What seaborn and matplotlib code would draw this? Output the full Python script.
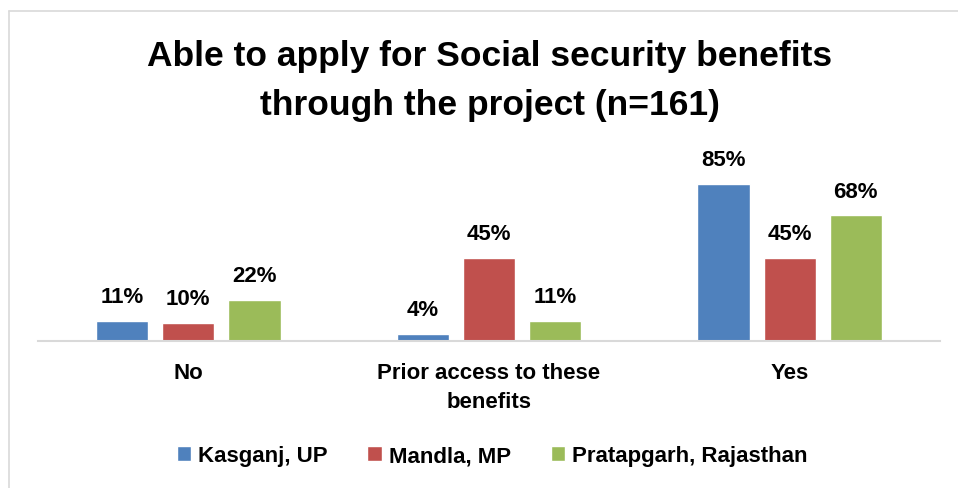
import numpy as np
import pandas as pd
import matplotlib.pyplot as plt
import seaborn as sns
from matplotlib.lines import Line2D

categories = ['No', 'Prior access to these\nbenefits', 'Yes']
districts = ['Kasganj, UP', 'Mandla, MP', 'Pratapgarh, Rajasthan']
kasganj = [11, 4, 85]
mandla = [10, 45, 45]
pratapgarh = [22, 11, 68]
colors = ['#4F81BD', '#C0504D', '#9BBB59']

df = pd.DataFrame({
    'category': categories * 3,
    'district': [districts[0]] * 3 + [districts[1]] * 3 + [districts[2]] * 3,
    'value': kasganj + mandla + pratapgarh,
})

sns.set_style('white')
plt.rcParams['font.family'] = ['Liberation Sans', 'DejaVu Sans']
plt.rcParams['text.color'] = 'black'
plt.rcParams['xtick.color'] = 'black'

fig = plt.figure(figsize=(9.58, 4.89), dpi=100)
ax = fig.add_axes([38 / 958, 147 / 489, 902 / 958, 184.7 / 489])

sns.barplot(data=df, x='category', y='value', hue='district', palette=colors,
            width=0.66, gap=0.21, saturation=1, ax=ax, legend=True)

for cont in ax.containers:
    ax.bar_label(cont, labels=[f'{int(v)}%' for v in cont.datavalues],
                 padding=10, fontsize=16, fontweight='bold', color='black')

ax.set_xlim(-0.5, 2.5)
ax.set_ylim(0, 100)
ax.set_xlabel('')
ax.set_ylabel('')
ax.set_yticks([])
ax.tick_params(axis='x', length=0, pad=15, labelsize=16)
for lbl in ax.get_xticklabels():
    lbl.set_fontweight('bold')
    lbl.set_linespacing(1.5)
for s in ['top', 'right', 'left']:
    ax.spines[s].set_visible(False)
ax.spines['bottom'].set_color('#D9D9D9')
ax.spines['bottom'].set_linewidth(1.5)
ax.patch.set_alpha(0)

handles, labels = ax.get_legend_handles_labels()
ax.get_legend().remove()
fig.legend(handles, labels, loc='center', bbox_to_anchor=(492 / 958, 1 - 457 / 489),
           ncol=3, frameon=False, handlelength=0.65, handleheight=0.65,
           handletextpad=0.3, columnspacing=1.8,
           prop={'weight': 'bold', 'size': 16})

fig.text(490 / 958, 1 - 81 / 489,
         'Able to apply for Social security benefits\nthrough the project (n=161)',
         ha='center', va='center', fontsize=25.5, fontweight='bold',
         color='black', linespacing=1.58)

# light frame around the chart area
fig.add_artist(Line2D([9 / 958, 1], [1 - 12 / 489] * 2, color='#D9D9D9', lw=1.2))
fig.add_artist(Line2D([9 / 958] * 2, [0, 1 - 12 / 489], color='#D9D9D9', lw=1.2))

fig.savefig('out.png', dpi=100)
